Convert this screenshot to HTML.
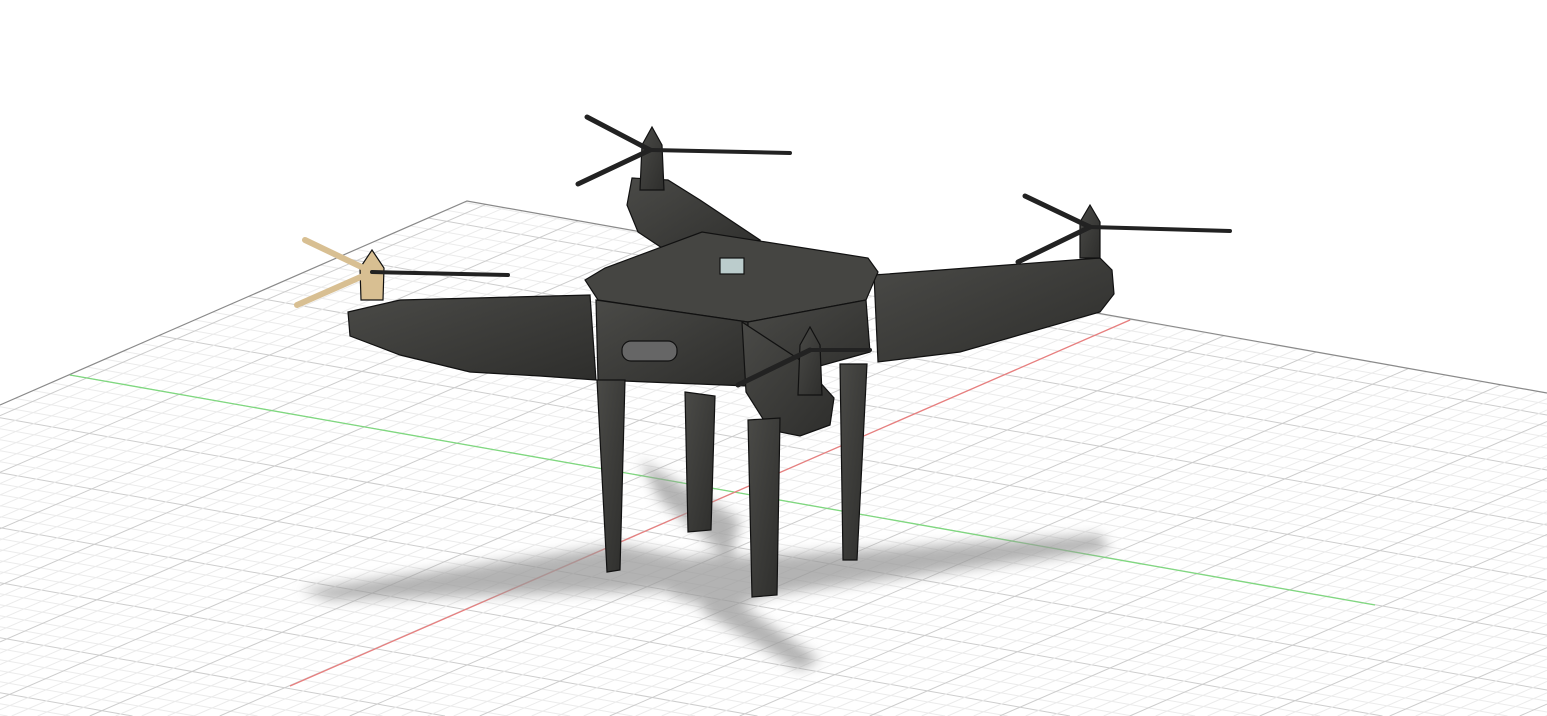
<!DOCTYPE html>
<html><head><meta charset="utf-8"><style>
html,body{margin:0;padding:0;background:#fff;width:1547px;height:716px;overflow:hidden}
svg{display:block;overflow:hidden}
</style></head><body>
<svg width="1547" height="716" viewBox="0 0 1547 716">
<defs>
<clipPath id="plane"><polygon points="467,201 1547,393 1547,716 0,716 0,405"/></clipPath>
<filter id="blur"><feGaussianBlur stdDeviation="6"/></filter>
<linearGradient id="bodyg" x1="0" y1="0" x2="1" y2="1"><stop offset="0" stop-color="#4a4a47"/><stop offset="1" stop-color="#2e2e2c"/></linearGradient>
</defs>
<g id="grid" clip-path="url(#plane)"></g>
<polyline points="0,405 467,201 1547,393" fill="none" stroke="#8a8a8a" stroke-width="1.2"/>
<line x1="70" y1="375" x2="1375" y2="605" stroke="#7fd87f" stroke-width="1.3"/>
<line x1="1130" y1="320" x2="290" y2="686" stroke="#e87f7f" stroke-width="1.3"/>
<g filter="url(#blur)" fill="#9a9a9a" opacity="0.75">
<polygon points="300,590 620,545 700,560 690,590 330,600"/>
<polygon points="700,560 1100,535 1110,550 730,600"/>
<polygon points="640,460 740,520 730,560 660,500"/>
<polygon points="720,590 820,660 800,670 700,610"/>
<ellipse cx="720" cy="580" rx="60" ry="25"/>
</g>
<g stroke="#111" stroke-width="1.2" fill="url(#bodyg)">
<polygon points="632,178 668,180 700,200 760,240 680,260 638,232 627,205"/>
<polygon points="348,312 400,300 590,295 596,380 540,376 470,372 400,355 350,336"/>
<polygon points="874,275 1100,258 1112,270 1114,294 1100,312 960,352 878,362"/>
<polygon points="585,280 605,268 702,232 868,258 878,272 866,300 748,322 598,300" fill="#454542"/>
<polygon points="596,300 748,322 748,386 598,380"/>
<polygon points="748,322 866,300 870,352 748,386"/>
<polygon points="742,322 800,360 834,398 830,425 800,436 770,430 746,392"/>
<polygon points="597,380 625,380 620,570 607,572"/>
<polygon points="685,392 715,396 711,530 688,532"/>
<polygon points="748,420 780,418 777,595 752,597"/>
<polygon points="840,364 867,364 857,560 843,560"/>
<rect x="622" y="341" width="55" height="20" rx="9" fill="#666" />
<rect x="720" y="258" width="24" height="16" fill="#bcc" />
<polygon points="642,145 652,127 662,145 664,190 640,190"/>
<polygon points="360,268 372,250 384,268 383,300 361,300" fill="#d8bf92"/>
<polygon points="1080,222 1090,205 1100,222 1100,258 1080,258"/>
<polygon points="800,345 810,327 820,345 822,395 798,395"/>
</g>
<g stroke-linecap="round">
<line x1="587" y1="117" x2="650" y2="150" stroke="#222" stroke-width="5"/>
<line x1="578" y1="184" x2="650" y2="150" stroke="#222" stroke-width="5"/>
<line x1="652" y1="150" x2="790" y2="153" stroke="#222" stroke-width="4"/>
<line x1="305" y1="240" x2="372" y2="272" stroke="#d8bf92" stroke-width="6"/>
<line x1="297" y1="305" x2="372" y2="272" stroke="#d8bf92" stroke-width="6"/>
<line x1="372" y1="272" x2="508" y2="275" stroke="#222" stroke-width="4"/>
<line x1="1025" y1="196" x2="1090" y2="227" stroke="#222" stroke-width="5"/>
<line x1="1018" y1="262" x2="1090" y2="227" stroke="#222" stroke-width="5"/>
<line x1="1090" y1="227" x2="1230" y2="231" stroke="#222" stroke-width="4"/>
<line x1="738" y1="385" x2="810" y2="350" stroke="#222" stroke-width="5"/>
<line x1="810" y1="350" x2="870" y2="350" stroke="#222" stroke-width="4"/>
</g>
</svg>
<script>
const g=document.getElementById('grid');
function ln(x1,y1,x2,y2,c,w){const l=document.createElementNS('http://www.w3.org/2000/svg','line');
l.setAttribute('x1',x1.toFixed(1));l.setAttribute('y1',y1.toFixed(1));l.setAttribute('x2',x2.toFixed(1));l.setAttribute('y2',y2.toFixed(1));
l.setAttribute('stroke',c);l.setAttribute('stroke-width',w);


g.appendChild(l);}
// family A: slope 0.176, clipped to frame
for(let i=-40;i<60;i++){
  const y0=375+i*11-0.176*70; if(y0>716) continue;
  let x2=1547,y2=y0+0.176*1547;
  if(y2>716){x2=(716-y0)/0.176;y2=716;}
  if(y2<190) continue;
  ln(0,y0,x2,y2,i%5==0?'#cdcdcd':'#ebebeb',1);
}
// family B: slope -0.435, clipped to frame
for(let i=-60;i<80;i++){
  const x0=1130+i*26;
  let xa=x0+(320-190)/0.435, ya=190;
  if(xa>1547){xa=1547;ya=320-0.435*(1547-x0);}
  let xb=x0-(716-320)/0.435, yb=716;
  if(xb<0){xb=0;yb=320+0.435*x0;}
  if(ya>716||yb<190||xa<0||xb>1547) continue;
  ln(xa,ya,xb,yb,i%5==0?'#cdcdcd':'#ebebeb',1);
}
</script>
</body></html>
